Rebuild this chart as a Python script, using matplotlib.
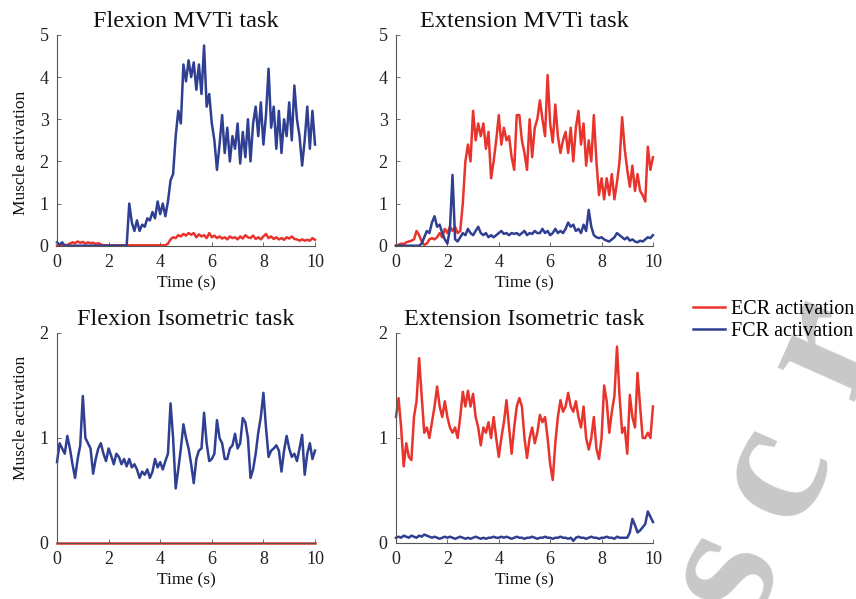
import numpy as np
import matplotlib
matplotlib.use("Agg")
import matplotlib.pyplot as plt

plt.rcParams['font.family'] = ['Liberation Serif', 'DejaVu Serif']

flex_mvt_fcr = [0.08, 0.02, 0.08, 0.0, 0.0, 0.0, 0.0, 0.0, 0.0, 0.0,
                0.0, 0.0, 0.0, 0.0, 0.0, 0.0, 0.0, 0.0, 0.0, 0.0,
                0.0, 0.0, 0.0, 0.0, 0.0, 0.0, 0.0, 0.0, 1.0, 0.55,
                0.35, 0.6, 0.35, 0.5, 0.45, 0.65, 0.6, 0.8, 0.65, 1.05,
                0.75, 1.0, 0.7, 1.05, 1.55, 1.7, 2.6, 3.2, 2.9, 4.3,
                3.9, 4.4, 4.0, 4.35, 3.7, 4.3, 3.6, 4.75, 3.3, 3.6,
                2.9, 2.5, 1.8, 2.4, 3.1, 2.2, 2.8, 2.0, 2.6, 2.3,
                2.9, 1.95, 2.7, 2.1, 3.0, 2.0, 2.9, 3.3, 2.6, 3.4,
                2.4, 3.1, 4.2, 2.8, 3.3, 2.3, 3.2, 2.2, 3.0, 2.6,
                3.4, 2.5, 3.8, 3.0, 2.6, 1.9, 2.5, 3.3, 2.3, 3.2,
                2.4]
flex_mvt_ecr = [0.0, 0.02, 0.0, 0.01, 0.02, 0.05, 0.08, 0.06, 0.1, 0.07,
                0.09, 0.05, 0.08, 0.06, 0.07, 0.04, 0.06, 0.03, 0.01, 0.01,
                0.01, 0.01, 0.01, 0.01, 0.01, 0.01, 0.01, 0.01, 0.01, 0.01,
                0.01, 0.01, 0.01, 0.01, 0.01, 0.01, 0.01, 0.01, 0.01, 0.01,
                0.01, 0.01, 0.01, 0.05, 0.15, 0.2, 0.18, 0.25, 0.22, 0.28,
                0.24, 0.3, 0.26, 0.3, 0.2, 0.27, 0.22, 0.25, 0.18, 0.3,
                0.2, 0.24, 0.18, 0.22, 0.17, 0.2, 0.15, 0.22, 0.18, 0.2,
                0.15, 0.22, 0.17, 0.25, 0.2, 0.18, 0.24, 0.16, 0.2, 0.15,
                0.22, 0.28, 0.18, 0.22, 0.16, 0.2, 0.15, 0.18, 0.14, 0.2,
                0.17, 0.22, 0.16, 0.15, 0.12, 0.15, 0.12, 0.14, 0.12, 0.18,
                0.14]

ext_mvt_ecr = [0.0, 0.02, 0.05, 0.04, 0.08, 0.1, 0.12, 0.15, 0.35, 0.25,
               0.1, 0.02, 0.05, 0.15, 0.18, 0.15, 0.2, 0.3, 0.2, 0.4,
               0.3, 0.45, 0.35, 0.45, 0.3, 0.35, 1.0, 2.0, 2.4, 2.0,
               3.2, 2.5, 2.9, 2.6, 2.9, 2.3, 2.7, 1.6, 2.0, 2.5,
               3.1, 2.4, 2.8, 2.5, 2.6, 2.1, 1.8, 3.1, 3.1, 2.5,
               2.2, 1.8, 3.0, 2.1, 2.8, 3.0, 3.45, 3.0, 2.6, 4.05,
               2.9, 2.45, 3.35, 2.6, 2.2, 2.5, 2.7, 2.2, 2.8, 2.0,
               2.8, 3.2, 2.4, 2.9, 1.9, 2.5, 2.0, 3.1, 2.0, 1.2,
               1.6, 1.1, 1.6, 1.2, 1.7, 1.1, 1.5, 2.0, 3.05, 2.3,
               1.8, 1.4, 1.9, 1.3, 1.7, 1.3, 1.2, 1.05, 2.35, 1.8,
               2.1]
ext_mvt_fcr = [0.0, 0.0, 0.0, 0.0, 0.0, 0.0, 0.0, 0.0, 0.0, 0.0,
               0.05, 0.2, 0.35, 0.3, 0.55, 0.7, 0.45, 0.5, 0.3, 0.15,
               0.05, 0.4, 1.68, 0.15, 0.1, 0.2, 0.3, 0.25, 0.4, 0.3,
               0.25, 0.35, 0.45, 0.3, 0.25, 0.3, 0.2, 0.25, 0.2, 0.25,
               0.3, 0.35, 0.28, 0.3, 0.25, 0.3, 0.28, 0.3, 0.25, 0.3,
               0.35, 0.25, 0.3, 0.28, 0.35, 0.3, 0.3, 0.4, 0.3, 0.35,
               0.25, 0.3, 0.4, 0.3, 0.35, 0.3, 0.4, 0.55, 0.45, 0.5,
               0.35, 0.4, 0.3, 0.5, 0.35, 0.85, 0.45, 0.25, 0.2, 0.18,
               0.2, 0.15, 0.12, 0.1, 0.15, 0.2, 0.3, 0.25, 0.2, 0.15,
               0.2, 0.12, 0.15, 0.1, 0.08, 0.12, 0.1, 0.15, 0.2, 0.18,
               0.25]

flex_iso_fcr = [0.77, 0.95, 0.9, 0.85, 1.02, 0.9, 0.75, 0.62, 0.8, 0.93,
                1.4, 1.0, 0.95, 0.9, 0.66, 0.8, 0.9, 0.95, 0.85, 0.78,
                0.9, 0.83, 0.75, 0.85, 0.82, 0.75, 0.8, 0.73, 0.8, 0.72,
                0.75, 0.7, 0.62, 0.68, 0.65, 0.7, 0.62, 0.68, 0.8, 0.72,
                0.77, 0.7, 0.78, 0.85, 1.33, 1.0, 0.52, 0.7, 0.9, 1.13,
                1.0, 0.9, 0.75, 0.57, 0.8, 0.88, 0.9, 1.24, 0.95, 0.78,
                0.8, 0.85, 1.17, 1.0, 0.95, 0.8, 0.8, 0.9, 0.93, 1.04,
                0.9, 0.95, 1.19, 1.15, 1.0, 0.62, 0.7, 0.85, 1.05, 1.2,
                1.43, 1.1, 0.82, 0.88, 0.9, 0.93, 0.88, 0.68, 0.88, 1.02,
                0.9, 0.82, 0.85, 0.78, 0.9, 1.03, 0.65, 0.85, 0.95, 0.8,
                0.88]
flex_iso_ecr = [0.0] * 101

ext_iso_ecr = [1.2, 1.38, 1.1, 0.73, 0.95, 0.82, 0.79, 1.2, 1.35, 1.76,
               1.4, 1.05, 1.1, 1.0, 1.15, 1.3, 1.49, 1.3, 1.2, 1.35,
               1.2, 1.1, 1.05, 1.1, 1.0, 1.2, 1.44, 1.3, 1.45, 1.3,
               1.42, 1.2, 1.1, 0.93, 1.1, 1.05, 1.15, 1.0, 1.2, 1.0,
               0.82, 1.0, 1.15, 1.36, 1.1, 0.85, 1.1, 1.3, 1.38, 1.3,
               1.0, 0.81, 1.0, 1.1, 0.95, 1.05, 1.22, 1.15, 1.2, 1.0,
               0.75, 0.6, 0.95, 1.2, 1.36, 1.25, 1.3, 1.43, 1.3, 1.25,
               1.35, 1.2, 1.1, 1.3, 1.0, 0.89, 1.0, 1.2, 0.9, 0.8,
               1.0, 1.5, 1.35, 1.05, 1.25, 1.4, 1.87, 1.4, 1.05, 1.1,
               0.85, 1.41, 1.2, 1.1, 1.62, 1.3, 1.0, 1.0, 1.05, 1.0,
               1.3]
ext_iso_fcr = [0.05, 0.06, 0.05, 0.07, 0.06, 0.05, 0.07, 0.06, 0.05, 0.07,
               0.06, 0.08, 0.07, 0.06, 0.05, 0.06, 0.05, 0.04, 0.05, 0.06,
               0.05, 0.06, 0.05, 0.04, 0.05, 0.06, 0.05, 0.04, 0.05, 0.04,
               0.05, 0.06, 0.05, 0.04, 0.05, 0.04, 0.05, 0.05, 0.06, 0.05,
               0.05, 0.06, 0.05, 0.06, 0.05, 0.04, 0.05, 0.06, 0.05, 0.05,
               0.04, 0.05, 0.05, 0.06, 0.05, 0.04, 0.05, 0.05, 0.06, 0.05,
               0.05, 0.04, 0.05, 0.05, 0.06, 0.05, 0.05, 0.04, 0.05, 0.02,
               0.05, 0.06, 0.05, 0.05, 0.04, 0.05, 0.06, 0.05, 0.05, 0.04,
               0.05, 0.05, 0.06, 0.05, 0.05, 0.04, 0.06, 0.05, 0.05, 0.05,
               0.05, 0.1, 0.23, 0.17, 0.1, 0.12, 0.15, 0.18, 0.3, 0.25,
               0.2]

titles = ["Flexion MVTi task", "Extension MVTi task",
          "Flexion Isometric task", "Extension Isometric task"]
ecr_series = [flex_mvt_ecr, ext_mvt_ecr, flex_iso_ecr, ext_iso_ecr]
fcr_series = [flex_mvt_fcr, ext_mvt_fcr, flex_iso_fcr, ext_iso_fcr]
ymax = [5, 5, 2, 2]

red = '#e8342c'
blue = '#2f3f92'

fig = plt.figure(figsize=(8.56, 5.99), dpi=100)

# faint, letter-spaced watermark in the lower right corner (behind everything)
for ch, x, y in [('s', 0.847, 0.045), ('c', 0.903, 0.212), ('r', 0.966, 0.42)]:
    fig.text(x, y, ch, fontsize=132, fontweight='bold', color='#c8c8c8',
             rotation=66, rotation_mode='anchor', ha='center', va='center',
             zorder=-10)

positions = [[0.0666, 0.5898, 0.3014, 0.3518], [0.4626, 0.5898, 0.3002, 0.3518],
             [0.0666, 0.0935, 0.3014, 0.3506], [0.4626, 0.0935, 0.3002, 0.3506]]
ylabel_y = [0.44, None, 0.595, None]

for i in range(4):
    ax = fig.add_axes(positions[i])
    t = np.linspace(0, 10, len(ecr_series[i]))
    l1, = ax.plot(t, ecr_series[i], color=red, lw=1.8, clip_on=False)
    l2, = ax.plot(t, fcr_series[i], color=blue, lw=1.8, clip_on=False)
    ax.set_xlim(0, 10)
    ax.set_ylim(0, ymax[i])
    ax.set_xticks([0, 2, 4, 6, 8, 10])
    ax.set_yticks(range(ymax[i] + 1))
    for s in ['top', 'right']:
        ax.spines[s].set_visible(False)
    for s in ['left', 'bottom']:
        ax.spines[s].set_color('#555555')
        ax.spines[s].set_linewidth(0.8)
    ax.tick_params(direction='in', length=3, width=0.6, colors='#555555',
                   labelcolor='#222222', labelsize=13)
    ax.tick_params(axis='x', pad=6)
    ax.tick_params(axis='y', pad=6)
    ax.set_title(titles[i], fontsize=17.5, pad=6, color='#111111')
    ax.set_xlabel('Time (s)', fontsize=12.5, labelpad=3, color='#111111')
    if ylabel_y[i] is not None:
        ax.set_ylabel('Muscle activation', fontsize=12.5, color='#111111')
        ax.yaxis.set_label_coords(-0.11, ylabel_y[i])
    ax.patch.set_alpha(0)

fig.legend([l1, l2], ['ECR activation', 'FCR activation'], loc='upper left',
           bbox_to_anchor=(0.800, 0.513), frameon=False, fontsize=14.5,
           handlelength=1.6, handletextpad=0.3, labelspacing=0.15, borderaxespad=0)

fig.savefig('out.png', dpi=100)
